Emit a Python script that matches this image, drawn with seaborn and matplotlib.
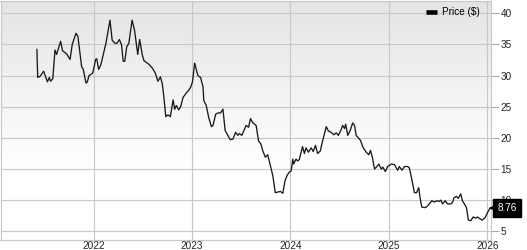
import numpy as np
import pandas as pd
import matplotlib
matplotlib.use("Agg")
import matplotlib.pyplot as plt
import matplotlib.dates as mdates
import matplotlib.transforms as mtrans
from matplotlib.lines import Line2D
import seaborn as sns

dates = [
    "2021-06-05", "2021-06-08", "2021-06-17", "2021-06-30", "2021-07-14", "2021-07-21",
    "2021-07-26", "2021-08-03", "2021-08-11", "2021-08-17", "2021-09-01", "2021-09-08",
    "2021-09-23", "2021-10-06", "2021-10-14", "2021-10-28", "2021-11-04", "2021-11-18",
    "2021-11-24", "2021-12-04", "2021-12-09", "2021-12-15", "2021-12-29", "2022-01-09",
    "2022-01-13", "2022-01-20", "2022-01-28", "2022-02-16", "2022-03-03", "2022-03-11",
    "2022-03-21", "2022-03-29", "2022-04-07", "2022-04-15", "2022-04-21", "2022-04-27",
    "2022-05-04", "2022-05-12", "2022-05-24", "2022-06-02", "2022-06-14", "2022-06-21",
    "2022-07-01", "2022-07-07", "2022-07-26", "2022-08-07", "2022-08-17", "2022-08-28",
    "2022-09-06", "2022-09-13", "2022-09-19", "2022-09-26", "2022-10-04", "2022-10-13",
    "2022-10-23", "2022-10-29", "2022-11-04", "2022-11-13", "2022-11-20", "2022-11-29",
    "2022-12-11", "2022-12-21", "2022-12-27", "2023-01-03", "2023-01-11", "2023-01-23",
    "2023-02-02", "2023-02-11", "2023-02-14", "2023-02-23", "2023-03-04", "2023-03-14",
    "2023-03-20", "2023-03-30", "2023-04-07", "2023-04-17", "2023-04-26", "2023-05-04",
    "2023-05-14", "2023-05-23", "2023-06-02", "2023-06-12", "2023-06-20", "2023-06-26",
    "2023-07-05", "2023-07-21", "2023-07-30", "2023-08-06", "2023-08-15", "2023-08-27",
    "2023-09-05", "2023-09-14", "2023-09-20", "2023-09-30", "2023-10-09", "2023-10-22",
    "2023-10-28", "2023-11-06", "2023-11-15", "2023-11-25", "2023-12-04", "2023-12-12",
    "2023-12-20", "2023-12-28", "2024-01-04", "2024-01-10", "2024-01-13", "2024-01-22",
    "2024-01-28", "2024-02-03", "2024-02-15", "2024-02-22", "2024-02-28", "2024-03-08",
    "2024-03-18", "2024-03-26", "2024-04-03", "2024-04-11", "2024-04-21", "2024-04-30",
    "2024-05-13", "2024-05-21", "2024-05-31", "2024-06-10", "2024-06-19", "2024-06-27",
    "2024-07-07", "2024-07-13", "2024-07-20", "2024-07-24", "2024-08-01", "2024-08-10",
    "2024-08-19", "2024-08-26", "2024-09-01", "2024-09-07", "2024-09-17", "2024-09-26",
    "2024-10-08", "2024-10-18", "2024-10-24", "2024-10-31", "2024-11-08", "2024-11-17",
    "2024-11-24", "2024-12-03", "2024-12-09", "2024-12-18", "2024-12-27", "2025-01-09",
    "2025-01-21", "2025-02-02", "2025-02-08", "2025-02-18", "2025-02-27", "2025-03-11",
    "2025-03-17", "2025-03-26", "2025-04-05", "2025-04-13", "2025-04-21", "2025-04-26",
    "2025-05-02", "2025-05-12", "2025-05-20", "2025-05-30", "2025-06-09", "2025-06-18",
    "2025-06-28", "2025-07-06", "2025-07-12", "2025-07-18", "2025-07-28", "2025-08-06",
    "2025-08-18", "2025-08-24", "2025-08-30", "2025-09-08", "2025-09-15", "2025-09-24",
    "2025-09-30", "2025-10-10", "2025-10-15", "2025-10-22", "2025-10-31", "2025-11-09",
    "2025-11-18", "2025-11-25", "2025-12-04", "2025-12-13", "2025-12-23", "2026-01-01",
    "2026-01-10", "2026-01-15",
]
prices = [
    34.2, 29.7, 29.9, 30.7, 29.0, 29.7, 29.1, 29.5, 34.1, 33.4, 35.5, 34.0,
    33.5, 32.6, 35.0, 36.8, 36.3, 31.4, 31.0, 28.8, 29.0, 30.0, 30.4, 32.6,
    32.7, 31.0, 31.7, 35.2, 38.9, 35.7, 35.2, 35.2, 35.8, 34.9, 32.3, 32.3,
    34.6, 35.2, 38.9, 37.3, 33.4, 35.8, 33.3, 32.4, 31.8, 31.2, 30.5, 29.1,
    29.8, 28.7, 26.5, 23.4, 23.7, 23.4, 26.1, 24.6, 25.2, 24.5, 25.0, 26.5,
    27.2, 27.7, 28.1, 29.0, 32.0, 30.0, 29.7, 28.2, 26.0, 25.2, 23.3, 21.8,
    22.0, 23.8, 24.0, 24.0, 24.6, 21.2, 20.4, 19.7, 19.8, 20.9, 20.4, 20.7,
    20.4, 22.0, 21.7, 23.1, 22.4, 22.0, 19.5, 19.0, 18.0, 16.9, 17.3, 15.0,
    13.9, 11.2, 11.3, 11.4, 11.1, 13.1, 14.0, 14.5, 14.7, 16.6, 15.8, 16.6,
    16.3, 16.5, 18.6, 17.5, 18.4, 17.7, 18.4, 17.8, 18.8, 17.5, 17.9, 19.6,
    21.8, 21.1, 20.9, 20.5, 20.8, 20.4, 21.3, 22.0, 21.5, 22.2, 20.4, 21.2,
    22.4, 22.0, 20.4, 20.1, 19.6, 18.5, 17.7, 17.3, 18.0, 16.9, 15.0, 15.4,
    15.8, 15.0, 15.3, 14.6, 15.4, 15.8, 15.7, 14.8, 15.4, 14.8, 15.4, 15.4,
    15.2, 13.4, 11.2, 11.2, 12.0, 10.4, 8.9, 8.8, 8.9, 9.4, 9.9, 9.7,
    9.9, 9.8, 10.0, 9.4, 9.9, 9.4, 9.4, 9.6, 10.4, 10.6, 10.3, 11.0,
    9.9, 9.2, 8.8, 6.8, 6.7, 7.3, 7.1, 7.3, 7.0, 6.8, 7.2, 8.0,
    8.7, 8.76,
]
year_ticks = ["2022", "2023", "2024", "2025", "2026"]
y_ticks = [5, 10, 15, 20, 25, 30, 35, 40]
series_name = "Price ($)"
last_label = "8.76"

df = pd.DataFrame({"date": pd.to_datetime(dates), "price": prices})

plt.rcParams["font.family"] = ["Liberation Sans", "DejaVu Sans"]

W, H, DPI = 527, 250, 100
fig = plt.figure(figsize=(W / DPI, H / DPI), dpi=DPI)
fig.patch.set_facecolor("white")
ax = fig.add_axes([0.5 / W, 1 - 239.5 / H, 490.5 / W, 239 / H])

# vertical background gradient (grey at top fading to white)
grad = np.linspace(0, 1, 256)
shade = np.clip(grad / 0.7, 0, 1)
top_c, bot_c = 0.895, 1.0
vals = top_c + (bot_c - top_c) * shade
img = np.repeat(vals[:, None, None], 3, axis=2)
ax.imshow(img, extent=[0, 1, 0, 1], transform=ax.transAxes, aspect="auto",
          zorder=0, interpolation="bilinear", origin="upper")

sns.lineplot(data=df, x="date", y="price", ax=ax, color="#1a1a1a", linewidth=0.95,
             zorder=3, legend=False)

ax.set_xlim(pd.Timestamp("2021-01-21"), pd.Timestamp("2026-01-14"))
ax.set_ylim(3.68, 42.06)

ax.set_xticks(pd.to_datetime([y + "-01-01" for y in year_ticks]))
ax.xaxis.set_major_formatter(mdates.DateFormatter("%Y"))
ax.set_yticks(y_ticks)
ax.yaxis.tick_right()
ax.set_xlabel("")
ax.set_ylabel("")

ax.grid(True, color="#c8c8c8", linewidth=0.85)
ax.set_axisbelow(True)
for s in ax.spines.values():
    s.set_color("#c8c8c8")
    s.set_linewidth(0.85)

ax.tick_params(axis="x", length=0, pad=0.8, labelsize=7.2, labelcolor="#222222")
ax.tick_params(axis="y", length=5.5, width=0.8, color="#aaaaaa", pad=1.5,
               labelsize=7.2, labelcolor="#222222")

handle = Line2D([], [], color="black", linewidth=3.3, solid_capstyle="butt")
leg = ax.legend([handle], [series_name], loc="upper right", frameon=False,
                fontsize=7.2, handlelength=1.05, handletextpad=0.5,
                borderaxespad=0.25, bbox_to_anchor=(0.99, 1.0))

# last-value tag
blend = mtrans.blended_transform_factory(ax.transAxes, ax.transData)
last_val = prices[-1]
ax.plot([1.0 + 4.5 / 490.5], [last_val], marker="<", markersize=9.5, color="black",
        transform=blend, clip_on=False, zorder=5, markeredgewidth=0)
ax.text(1.0 + 6.5 / 490.5, last_val, last_label, transform=blend, color="white",
        fontsize=7.2, va="center", ha="left", zorder=6,
        bbox=dict(boxstyle="square,pad=0.42", fc="black", ec="black"))

fig.savefig("out.png", dpi=DPI)
